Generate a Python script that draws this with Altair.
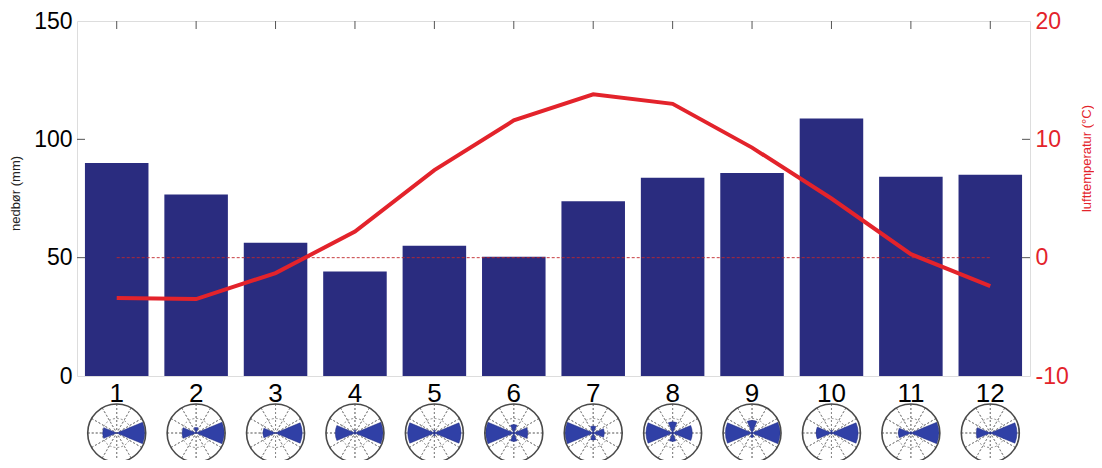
import math
import altair as alt
import pandas as pd

# ---- data ----
months = list(range(1, 13))
precip = [90, 76.7, 56.3, 44.2, 55, 50.4, 73.8, 83.8, 85.8, 108.8, 84.2, 85]     # nedbør (mm)
temp = [-3.4, -3.5, -1.3, 2.2, 7.4, 11.6, 13.8, 13.0, 9.3, 5.0, 0.3, -2.4]        # lufttemperatur (°C)

# wind-rose sector lengths (fraction of rose radius) per month
wind_N = [0.0, 0.2, 0.0, 0.1, 0.1, 0.3, 0.25, 0.4, 0.45, 0.1, 0.05, 0.05]
wind_E = [1.0, 1.0, 0.95, 1.0, 0.95, 0.5, 0.4, 0.7, 1.0, 0.95, 1.0, 0.95]
wind_S = [0.0, 0.0, 0.0, 0.05, 0.1, 0.3, 0.25, 0.3, 0.15, 0.05, 0.05, 0.05]
wind_W = [0.5, 0.5, 0.45, 0.7, 0.95, 1.0, 1.0, 0.95, 0.95, 0.55, 0.45, 0.5]

precip_ticks = [50, 100]
temp_ticks = [0, 10]

# ---- styling ----
FONT = "Liberation Sans"
BAR = "#2a2c7f"
WEDGE = "#3040a6"
RED = "#e3232b"
W, H = 953, 355
ROSE_Y = 412          # rose centre, pixels below plot top
ROSE_R = 29           # outer ring radius in px
WEDGE_R = 28          # px for a sector of length 1
HALF = math.pi / 8    # half width of a 45° sector

base = pd.DataFrame({"month": months, "precip": precip, "temp": temp})
zero_df = pd.DataFrame({"month": [months[0], months[-1]], "temp": [0, 0]})
ptick_df = pd.DataFrame({"precip": precip_ticks})
ttick_df = pd.DataFrame({"temp": temp_ticks})

rows = []
for i, m in enumerate(months):
    for ang, vals in ((0.0, wind_N), (math.pi / 2, wind_E), (math.pi, wind_S), (3 * math.pi / 2, wind_W)):
        if vals[i] > 0:
            rows.append({"month": m, "t0": ang - HALF, "t1": ang + HALF, "r": vals[i] * WEDGE_R})
wind_df = pd.DataFrame(rows)

spokes = pd.DataFrame(
    [{"month": m, "t0": k * math.pi / 6, "t1": k * math.pi / 6 + 0.0005, "r": ROSE_R}
     for m in months for k in range(12)]
)

x_enc = alt.X(
    "month:O",
    scale=alt.Scale(paddingInner=0.2, paddingOuter=0.1),
    axis=alt.Axis(title=None, labelAngle=0, labelFontSize=26, labelFont=FONT,
                  labelColor="black", tickSize=0, domain=False, labelPadding=4),
)

y_precip = alt.Y(
    "precip:Q",
    scale=alt.Scale(domain=[0, 150], nice=False, zero=False),
    axis=alt.Axis(values=[0, 50, 100, 150], title="nedbør (mm)", grid=False, domain=False,
                  tickSize=0, labelPadding=5, labelFontSize=23, labelFont=FONT,
                  labelColor="black", titleFont=FONT, titleFontSize=13,
                  titleFontWeight="normal", titleColor="#222222", titleAngle=270,
                  titleX=-62, titleY=172, titleAlign="center", titleBaseline="middle"),
)

y_temp = alt.Y(
    "temp:Q",
    scale=alt.Scale(domain=[-10, 20], nice=False, zero=False),
    axis=alt.Axis(orient="right", values=[-10, 0, 10, 20], title="lufttemperatur (°C)",
                  labelExpr="'' + datum.value",
                  grid=False, domain=False, tickSize=0, labelPadding=5, labelFontSize=23,
                  labelFont=FONT, labelColor=RED, titleFont=FONT, titleFontSize=13,
                  titleFontWeight="normal", titleColor=RED, titleAngle=270,
                  titleX=56, titleY=137, titleAlign="center", titleBaseline="middle"),
)

bars = alt.Chart(base).mark_bar(color=BAR).encode(x=x_enc, y=y_precip)
left_ticks = alt.Chart(ptick_df).mark_rule(color="#555555", strokeWidth=1).encode(
    y=y_precip, x=alt.value(0), x2=alt.value(8))
precip_group = alt.layer(bars, left_ticks)

zero_line = alt.Chart(zero_df).mark_line(color="#c0282a", strokeWidth=0.9, strokeDash=[3, 2]).encode(
    x=x_enc, y=y_temp)
right_ticks = alt.Chart(ttick_df).mark_rule(color="#555555", strokeWidth=1).encode(
    y=y_temp, x=alt.value(W - 8), x2=alt.value(W))
temp_line = alt.Chart(base).mark_line(color=RED, strokeWidth=4).encode(x=x_enc, y=y_temp)
temp_group = alt.layer(zero_line, right_ticks, temp_line)

top_ticks = alt.Chart(base).mark_rule(color="#555555", strokeWidth=1).encode(
    x=x_enc, y=alt.value(0), y2=alt.value(8))

spoke_layer = alt.Chart(spokes).mark_arc(
    fillOpacity=0, stroke="#8a8a8a", strokeWidth=1, strokeDash=[2, 2]
).encode(
    x=x_enc, y=alt.value(ROSE_Y),
    theta=alt.Theta("t0:Q", scale=None, stack=None), theta2="t1:Q",
    radius=alt.Radius("r:Q", scale=None),
)

inner_ring = alt.Chart(base).mark_point(
    shape="circle", size=(ROSE_R) ** 2, filled=False, stroke="#8a8a8a",
    strokeWidth=1, strokeDash=[2, 2], opacity=1
).encode(x=x_enc, y=alt.value(ROSE_Y))

wedges = alt.Chart(wind_df).mark_arc(color=WEDGE, stroke="#1f2a80", strokeWidth=0.5).encode(
    x=x_enc, y=alt.value(ROSE_Y),
    theta=alt.Theta("t0:Q", scale=None, stack=None), theta2="t1:Q",
    radius=alt.Radius("r:Q", scale=None),
)

outer_ring = alt.Chart(base).mark_point(
    shape="circle", size=(2 * ROSE_R) ** 2, filled=False, stroke="#4a4a4a",
    strokeWidth=1.6, opacity=1
).encode(x=x_enc, y=alt.value(ROSE_Y))

chart = alt.layer(
    precip_group, temp_group, top_ticks, spoke_layer, inner_ring, wedges, outer_ring
).resolve_scale(y="independent").properties(
    width=W, height=H,
    padding={"left": 69, "top": 13, "right": 64, "bottom": 84},
    autosize=alt.AutoSizeParams(type="none"),
).configure_view(stroke="#7a7a7a", strokeWidth=1).configure(background="white")

chart.save("out.html", embed_options={"renderer": "svg", "actions": False})
